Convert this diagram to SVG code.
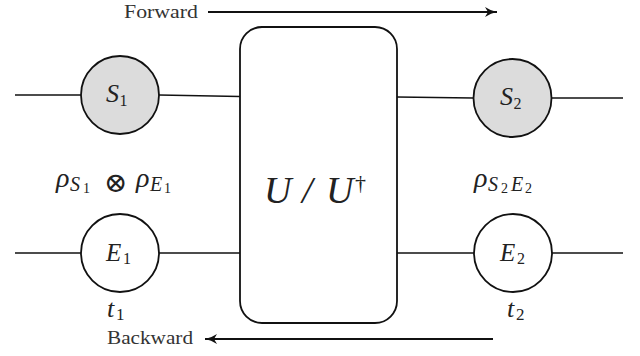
<svg xmlns="http://www.w3.org/2000/svg" width="640" height="356" viewBox="0 0 640 356">
<style>
.wire{stroke:#111;stroke-width:1.3;fill:none}
.arrow{stroke:#111;stroke-width:2;fill:none}
.node{stroke:#111;stroke-width:1.8}
.s{fill:#dcdcdc}
.e{fill:#fff}
.math{font-family:'Liberation Serif','DejaVu Serif','Times New Roman',serif;font-style:italic;fill:#222}
.rm{font-family:'Liberation Serif','DejaVu Serif','Times New Roman',serif;fill:#333}
.up{font-style:normal}
</style>
<defs>
<marker id="ah" markerWidth="13" markerHeight="10" refX="12" refY="5" orient="auto" markerUnits="userSpaceOnUse">
<path d="M0,0 Q6,4 12,5 Q6,6 0,10 L3,5 Z" fill="#111"/>
</marker>
</defs>
<rect width="640" height="356" fill="#fff"/>
<g id="connectors">
<line class="wire" x1="15" y1="95" x2="81" y2="95"/>
<line class="wire" x1="159" y1="95" x2="240" y2="96.5"/>
<line class="wire" x1="397" y1="97" x2="473" y2="98"/>
<line class="wire" x1="552" y1="98" x2="623" y2="98"/>
<line class="wire" x1="15" y1="253" x2="81" y2="253"/>
<line class="wire" x1="159" y1="253" x2="240" y2="253"/>
<line class="wire" x1="397" y1="253" x2="474" y2="253"/>
<line class="wire" x1="552" y1="253" x2="623" y2="253"/>
<line class="arrow" x1="208" y1="12" x2="497" y2="12" marker-end="url(#ah)"/>
<line class="arrow" x1="493" y1="339" x2="205" y2="339" marker-end="url(#ah)"/>
</g>
<g id="forward"><text class="rm" x="124" y="18" font-size="18" textLength="74" lengthAdjust="spacingAndGlyphs">Forward</text></g>
<g id="backward"><text class="rm" x="107" y="344" font-size="18" textLength="86" lengthAdjust="spacingAndGlyphs">Backward</text></g>
<g id="U">
<rect x="240" y="27" width="157" height="296" rx="22" ry="22" fill="#fff" stroke="#111" stroke-width="1.8"/>
<text class="math" font-size="38"><tspan x="264" y="203">U</tspan><tspan x="302" y="203">/</tspan><tspan x="326" y="203">U</tspan><tspan class="up" x="355" y="190" font-size="22">†</tspan></text>
</g>
<g id="S1">
<circle class="node s" cx="120" cy="95" r="39"/>
<text class="math" font-size="26"><tspan x="106" y="102">S</tspan><tspan class="up" x="119.5" y="106" font-size="16">1</tspan></text>
</g>
<g id="S2">
<circle class="node s" cx="512.5" cy="98" r="39"/>
<text class="math" font-size="26"><tspan x="500" y="105">S</tspan><tspan class="up" x="513.5" y="109" font-size="16">2</tspan></text>
</g>
<g id="E1">
<circle class="node e" cx="120" cy="253" r="39"/>
<text class="math" font-size="25"><tspan x="106" y="261">E</tspan><tspan class="up" x="123" y="264" font-size="16">1</tspan></text>
</g>
<g id="E2">
<circle class="node e" cx="513" cy="253" r="39"/>
<text class="math" font-size="25"><tspan x="500" y="261">E</tspan><tspan class="up" x="517" y="264" font-size="16">2</tspan></text>
</g>
<g id="rho1">
<text class="math" font-size="28"><tspan x="56" y="187">ρ</tspan><tspan x="70" y="191" font-size="20">S</tspan><tspan class="up" x="83" y="193" font-size="14">1</tspan><tspan class="up" x="104" y="192" font-size="28">⊗</tspan><tspan x="136" y="187">ρ</tspan><tspan x="150" y="191" font-size="20">E</tspan><tspan class="up" x="164" y="193" font-size="14">1</tspan></text>
</g>
<g id="rho2">
<text class="math" font-size="28"><tspan x="474" y="187">ρ</tspan><tspan x="488" y="191" font-size="20">S</tspan><tspan class="up" x="501" y="193" font-size="14">2</tspan><tspan x="511" y="191" font-size="20">E</tspan><tspan class="up" x="525" y="193" font-size="14">2</tspan></text>
</g>
<g id="t1"><text class="math" font-size="26"><tspan x="107" y="317">t</tspan><tspan class="up" x="116" y="320" font-size="17">1</tspan></text></g>
<g id="t2"><text class="math" font-size="26"><tspan x="507" y="317">t</tspan><tspan class="up" x="516" y="320" font-size="17">2</tspan></text></g>
</svg>
